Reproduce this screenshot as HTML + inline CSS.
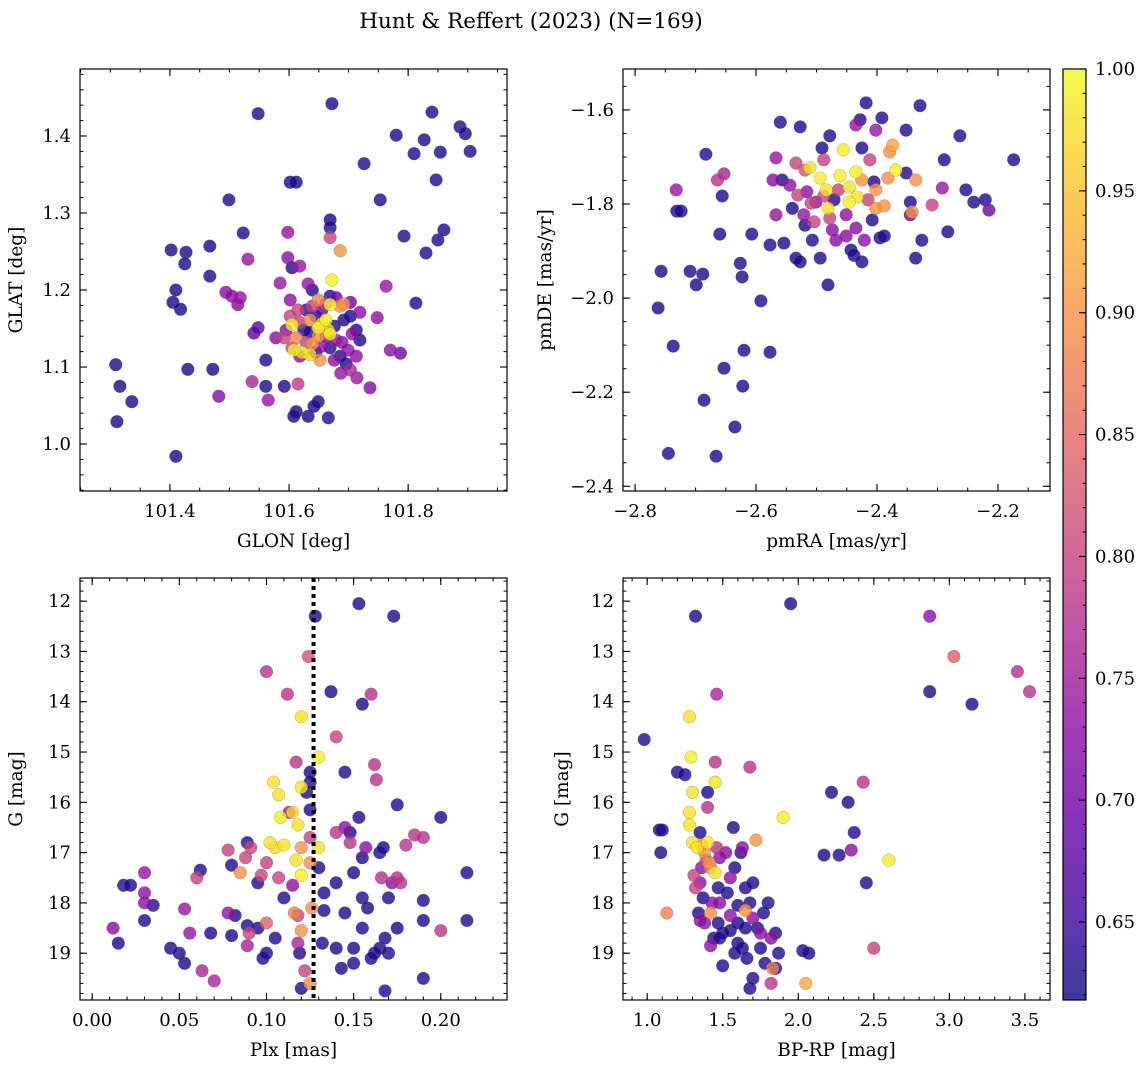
<!DOCTYPE html>
<html><head><meta charset="utf-8"><style>
body{margin:0;background:#fff;}
svg{display:block;font-family:"DejaVu Serif","Liberation Serif",serif;}
</style></head><body>
<svg id="fig" width="1148" height="1068" viewBox="0 0 1148 1068" xmlns="http://www.w3.org/2000/svg">
<text x="531" y="28" font-size="21.5" text-anchor="middle">Hunt &amp; Reffert (2023) (N=169)</text>
</svg>
<script>
// ---- data: [x, y, membership probability] ----
const skyPoints = [
[101.309,1.103,.625],[101.316,1.075,.625],[101.336,1.055,.625],[101.311,1.029,.625],[101.410,0.984,.625],[101.402,1.252,.625],[101.427,1.249,.625],[101.425,1.234,.625],[101.410,1.200,.625],[101.405,1.184,.625],[101.418,1.175,.625],[101.430,1.097,.625],[101.467,1.257,.625],[101.467,1.218,.625],[101.472,1.097,.625],[101.482,1.062,.72],[101.499,1.317,.63],[101.523,1.274,.63],[101.531,1.240,.74],[101.494,1.197,.73],[101.504,1.192,.73],[101.518,1.190,.74],[101.514,1.181,.72],[101.541,1.144,.68],[101.538,1.081,.76],[101.548,1.429,.63],[101.548,1.151,.68],[101.561,1.109,.63],[101.561,1.075,.63],[101.565,1.057,.74],[101.585,1.209,.74],[101.592,1.075,.63],[101.602,1.340,.625],[101.612,1.340,.625],[101.598,1.275,.74],[101.598,1.242,.73],[101.605,1.229,.63],[101.602,1.187,.73],[101.615,1.078,.79],[101.612,1.042,.625],[101.632,1.036,.625],[101.649,1.055,.63],[101.642,1.049,.63],[101.608,1.036,.625],[101.666,1.034,.63],[101.669,1.291,.63],[101.669,1.281,.63],[101.669,1.268,.80],[101.686,1.251,.90],[101.672,1.213,.99],[101.672,1.442,.63],[101.726,1.364,.63],[101.753,1.317,.63],[101.748,1.164,.73],[101.763,1.205,.74],[101.787,1.118,.70],[101.770,1.122,.73],[101.793,1.270,.63],[101.780,1.401,.63],[101.810,1.377,.63],[101.813,1.183,.63],[101.827,1.395,.63],[101.840,1.431,.63],[101.854,1.379,.625],[101.847,1.343,.63],[101.850,1.265,.63],[101.830,1.248,.63],[101.860,1.278,.63],[101.887,1.412,.63],[101.896,1.403,.63],[101.904,1.380,.63],[101.714,1.086,.74],[101.736,1.073,.72],[101.696,1.104,.63],[101.703,1.096,.76],[101.687,1.092,.74],
[101.618,1.114,.73],[101.625,1.148,.63],[101.635,1.145,.63],[101.645,1.166,.63],[101.655,1.174,.68],[101.676,1.153,.63],[101.662,1.140,.73],[101.618,1.231,.74],[101.632,1.208,.74],[101.639,1.200,.63],[101.649,1.187,.88],[101.662,1.182,.80],[101.669,1.192,.63],[101.679,1.190,.70],[101.686,1.179,.90],[101.692,1.182,.90],[101.692,1.161,.63],[101.703,1.184,.70],[101.703,1.166,.63],[101.713,1.148,.63],[101.719,1.171,.73],[101.706,1.143,.73],[101.689,1.132,.73],[101.699,1.122,.73],[101.679,1.135,.74],[101.669,1.125,.63],[101.655,1.127,.73],[101.645,1.119,.63],[101.639,1.130,.90],[101.629,1.132,.80],[101.612,1.138,.88],[101.605,1.155,.99],[101.608,1.122,.99],[101.622,1.119,.98],[101.635,1.116,.97],[101.649,1.151,.99],[101.655,1.156,.98],[101.662,1.161,.99],[101.666,1.148,.97],[101.669,1.143,.99],[101.649,1.140,.90],[101.635,1.161,.90],[101.618,1.158,.80],[101.602,1.166,.80],[101.595,1.148,.73],[101.615,1.174,.80],[101.629,1.174,.63],[101.652,1.109,.90],[101.676,1.109,.73],[101.686,1.114,.63],[101.713,1.114,.73],[101.719,1.135,.63],[101.669,1.181,.99],[101.639,1.179,.80],[101.605,1.125,.80],[101.592,1.138,.80],[101.578,1.138,.73]
];
const pmPoints = [
[-2.762,-2.021,.63],[-2.757,-1.943,.63],[-2.745,-2.330,.63],[-2.737,-2.102,.63],[-2.732,-1.770,.74],[-2.731,-1.815,.63],[-2.724,-1.815,.63],[-2.709,-1.943,.63],[-2.699,-1.972,.63],[-2.688,-1.949,.63],[-2.686,-2.217,.63],[-2.683,-1.694,.63],[-2.666,-2.336,.63],[-2.653,-2.149,.63],[-2.660,-1.864,.63],[-2.656,-1.783,.63],[-2.653,-1.736,.76],[-2.664,-1.749,.78],[-2.635,-2.274,.63],[-2.622,-2.187,.63],[-2.620,-2.111,.63],[-2.626,-1.926,.63],[-2.623,-1.955,.63],[-2.607,-1.864,.63],[-2.592,-2.006,.63],[-2.577,-2.115,.63],[-2.577,-1.887,.63],[-2.560,-1.626,.63],[-2.527,-1.636,.63],[-2.572,-1.749,.72],
[-2.567,-1.702,.74],[-2.557,-1.749,.63],[-2.544,-1.760,.73],[-2.567,-1.823,.74],[-2.554,-1.883,.63],[-2.540,-1.809,.63],[-2.531,-1.781,.80],[-2.534,-1.713,.80],[-2.519,-1.728,.82],[-2.511,-1.723,.98],[-2.521,-1.823,.74],[-2.519,-1.845,.63],[-2.534,-1.915,.63],[-2.527,-1.923,.63],[-2.507,-1.877,.63],[-2.494,-1.915,.63],[-2.501,-1.796,.73],[-2.494,-1.745,.99],[-2.491,-1.681,.63],[-2.488,-1.706,.80],[-2.484,-1.770,.98],[-2.481,-1.809,.98],[-2.478,-1.655,.63],[-2.478,-1.830,.80],[-2.474,-1.855,.73],[-2.481,-1.972,.63],[-2.471,-1.791,.63],[-2.461,-1.740,.99],[-2.464,-1.770,.80],[-2.456,-1.685,.99],[-2.451,-1.823,.73],[-2.446,-1.764,.98],[-2.446,-1.796,.99],[-2.443,-1.898,.63],[-2.438,-1.909,.63],[-2.435,-1.732,.99],[-2.433,-1.785,.98],[-2.428,-1.621,.63],[-2.435,-1.632,.74],[-2.425,-1.681,.63],[-2.425,-1.749,.90],[-2.421,-1.877,.73],[-2.425,-1.923,.63],[-2.418,-1.585,.63],[-2.415,-1.791,.80],[-2.408,-1.834,.63],[-2.405,-1.753,.63],[-2.402,-1.809,.90],[-2.395,-1.872,.63],[-2.388,-1.868,.63],[-2.392,-1.617,.63],[-2.382,-1.745,.90],[-2.388,-1.804,.90],[-2.369,-1.728,.99],[-2.379,-1.689,.90],[-2.374,-1.675,.92],[-2.402,-1.643,.74],[-2.352,-1.643,.63],[-2.352,-1.734,.63],[-2.345,-1.796,.63],[-2.345,-1.823,.70],[-2.336,-1.749,.90],[-2.342,-1.817,.90],[-2.329,-1.591,.63],[-2.336,-1.915,.63],[-2.326,-1.877,.63],[-2.309,-1.802,.80],[-2.292,-1.766,.74],[-2.289,-1.706,.63],[-2.283,-1.859,.63],[-2.263,-1.655,.63],[-2.253,-1.770,.63],[-2.240,-1.796,.63],[-2.221,-1.791,.63],[-2.215,-1.813,.70],[-2.174,-1.706,.63],[-2.468,-1.877,.73],[-2.504,-1.838,.80],[-2.451,-1.868,.73],[-2.412,-1.706,.80],[-2.402,-1.770,.90],[-2.516,-1.774,.73],[-2.509,-1.798,.80],[-2.488,-1.783,.80],[-2.435,-1.851,.73]
];
const plxPoints = [
[0.012,18.5,.73],[0.015,18.8,.63],[0.018,17.65,.63],[0.022,17.65,.63],[0.03,17.4,.74],[0.03,17.8,.73],[0.03,18.0,.73],[0.035,18.05,.63],[0.03,18.35,.63],[0.045,18.9,.63],[0.05,19.0,.63],[0.053,18.12,.74],[0.053,19.2,.63],[0.056,18.6,.74],[0.06,17.5,.80],[0.062,17.35,.63],[0.063,19.35,.76],[0.068,18.6,.63],[0.07,19.55,.76],[0.078,16.95,.80],[0.08,17.25,.63],[0.078,18.2,.73],[0.08,18.65,.63],[0.082,18.25,.63],[0.085,17.4,.90],[0.088,17.1,.80],[0.089,16.8,.63],[0.089,18.45,.63],[0.089,18.85,.76],[0.09,18.6,.80],[0.091,16.9,.80],[0.095,17.6,.63],[0.095,18.5,.63],[0.097,17.45,.80],[0.098,19.1,.63],[0.1,19.0,.63],[0.1,18.4,.84],[0.1,17.2,.80],[0.102,16.8,.98],[0.104,15.6,.98],[0.105,16.9,.97],[0.107,15.85,.98],[0.108,16.3,.99],[0.11,16.85,.98],[0.1,13.4,.78],[0.105,18.7,.63],[0.107,17.5,.80],[0.11,17.9,.63],[0.112,13.85,.78],[0.113,16.2,.74],[0.115,16.2,.97],[0.117,17.15,.98],[0.115,17.65,.73],[0.116,18.2,.88],[0.118,18.25,.80],[0.118,18.8,.76],[0.119,19.0,.63],[0.117,15.2,.78],[0.118,16.45,.98],[0.12,15.7,.98],[0.12,14.3,.98],[0.12,16.9,.90],[0.12,17.45,.99],[0.12,18.55,.90],[0.12,19.7,.63],[0.122,19.35,.80],[0.123,15.8,.63],[0.124,13.1,.82],[0.125,15.4,.63],[0.125,15.6,.63],[0.125,16.15,.63],[0.125,16.7,.80],[0.125,17.2,.90],[0.126,18.1,.90],[0.125,19.6,.90],[0.128,12.3,.63],[0.13,15.1,.99],[0.13,16.9,.98],[0.13,17.3,.63],[0.132,18.8,.63],[0.133,17.8,.63],[0.133,18.15,.63],[0.137,13.8,.63],[0.14,14.7,.80],[0.14,16.6,.78],[0.14,17.6,.63],[0.14,18.9,.63],[0.145,18.2,.63],[0.143,19.3,.63],[0.145,15.4,.63],[0.145,16.5,.73],[0.148,16.6,.63],[0.148,16.8,.78],[0.15,17.4,.63],[0.15,18.9,.63],[0.15,19.2,.63],[0.153,12.05,.63],[0.155,14.05,.63],[0.153,16.3,.63],[0.155,17.1,.63],[0.155,17.9,.63],[0.157,16.9,.73],[0.158,18.1,.63],[0.16,13.85,.78],[0.162,15.25,.78],[0.162,19.0,.63],[0.163,15.55,.78],[0.165,17.0,.63],[0.165,18.9,.63],[0.166,17.5,.78],[0.167,16.9,.63],[0.168,19.75,.63],[0.168,18.7,.63],[0.17,17.9,.63],[0.172,17.6,.73],[0.173,12.3,.63],[0.175,16.05,.63],[0.175,17.5,.78],[0.175,18.5,.63],[0.177,17.6,.78],[0.18,16.85,.78],[0.185,16.65,.78],[0.19,16.7,.78],[0.19,17.95,.63],[0.19,18.35,.63],[0.19,19.5,.63],[0.2,16.3,.63],[0.2,18.55,.78],[0.215,17.4,.63],[0.215,18.35,.63],[0.17,19.0,.63],[0.16,19.1,.63],[0.155,18.5,.63]
];
const cmdPoints = [
[0.98,14.75,.63],[1.08,16.55,.625],[1.09,17.0,.63],[1.13,18.2,.88],[1.2,15.4,.63],[1.25,15.45,.63],[1.28,14.3,.98],[1.29,15.1,.99],[1.28,16.2,.98],[1.28,16.45,.98],[1.3,15.8,.98],[1.32,12.3,.63],[1.3,16.8,.98],[1.31,17.45,.80],[1.32,17.7,.80],[1.33,16.9,.98],[1.35,16.6,.63],[1.36,16.85,.90],[1.34,18.2,.63],[1.35,17.6,.73],[1.36,17.3,.73],[1.37,17.9,.63],[1.38,18.4,.73],[1.38,17.0,.90],[1.39,17.15,.80],[1.4,15.8,.63],[1.4,16.1,.78],[1.4,16.8,.98],[1.41,17.2,.90],[1.42,17.3,.88],[1.42,18.85,.73],[1.42,18.2,.90],[1.43,18.0,.73],[1.44,18.7,.63],[1.45,15.2,.78],[1.45,15.6,.98],[1.45,17.4,.98],[1.46,13.85,.76],[1.46,16.9,.78],[1.47,17.7,.63],[1.47,18.4,.63],[1.48,17.1,.73],[1.48,18.0,.73],[1.5,19.25,.63],[1.5,18.6,.63],[1.52,17.0,.73],[1.53,17.8,.63],[1.55,18.25,.73],[1.55,18.55,.63],[1.57,16.5,.63],[1.58,17.3,.63],[1.6,18.05,.63],[1.6,18.8,.63],[1.6,18.4,.63],[1.62,17.0,.63],[1.63,18.9,.63],[1.63,16.9,.73],[1.65,18.15,.90],[1.65,17.7,.63],[1.66,19.1,.63],[1.68,15.3,.78],[1.68,18.0,.63],[1.68,19.7,.63],[1.7,19.5,.63],[1.7,18.3,.73],[1.72,16.75,.90],[1.73,18.5,.63],[1.75,18.6,.73],[1.77,18.2,.63],[1.78,19.2,.63],[1.8,18.0,.63],[1.82,18.7,.73],[1.82,19.6,.78],[1.83,19.3,.88],[1.85,19.3,.63],[1.85,18.6,.63],[1.87,19.0,.63],[1.9,16.3,.99],[1.95,12.05,.63],[2.03,18.95,.63],[2.07,19.0,.63],[2.05,19.6,.92],[2.17,17.05,.63],[2.22,15.8,.63],[2.27,17.05,.63],[2.33,16.0,.63],[2.35,16.95,.73],[2.37,16.6,.63],[2.43,15.6,.78],[2.45,17.6,.63],[2.5,18.9,.80],[2.6,17.15,.99],[2.87,12.3,.73],[2.87,13.8,.63],[3.03,13.1,.84],[3.15,14.05,.63],[3.45,13.4,.78],[3.53,13.8,.78],[1.1,16.55,.63],[1.35,18.35,.73],[1.48,18.7,.63],[1.55,17.5,.73],[1.58,19.0,.63],[1.65,18.5,.63],[1.75,18.9,.63],[1.7,17.6,.63]
];
const plxRef = [0.127];
const colorTicks = [0.65,0.70,0.75,0.80,0.85,0.90,0.95,1.00];
const cMin = 0.618, cMax = 1.0;

const NS="http://www.w3.org/2000/svg";
const svg=document.getElementById('fig');
function mk(tag,attrs,parent){const e=document.createElementNS(NS,tag);for(const k in attrs)e.setAttribute(k,attrs[k]);(parent||svg).appendChild(e);return e;}
const plasma=["#0d0887","#41049d","#6a00a8","#8f0da4","#b12a90","#cc4778","#e16462","#f2844b","#fca636","#fcce25","#f0f921"];
function hex(h){return [1,3,5].map(i=>parseInt(h.substr(i,2),16));}
function cmap(v){let t=(v-cMin)/(cMax-cMin);t=Math.max(0,Math.min(1,t));const f=t*10,i=Math.min(9,Math.floor(f)),r=f-i;const a=hex(plasma[i]),b=hex(plasma[i+1]);return 'rgb('+a.map((c,k)=>Math.round(c+(b[k]-c)*r)).join(',')+')';}

const TICK=18, LAB=18.5;
const panels=[
 {name:'sky',pts:skyPoints,x0:80,x1:507,y0:69,y1:491,xd:[101.249,101.966],yd:[1.487,0.939],xt:[101.4,101.6,101.8],xf:1,xm:0.05,yt:[1.0,1.1,1.2,1.3,1.4],yf:1,ym:0.02,xl:'GLON [deg]',yl:'GLAT [deg]',ylx:22},
 {name:'proper-motion',pts:pmPoints,x0:623,x1:1050,y0:69,y1:491,xd:[-2.82,-2.114],yd:[-1.513,-2.41],xt:[-2.8,-2.6,-2.4,-2.2],xf:1,xm:0.05,yt:[-2.4,-2.2,-2.0,-1.8,-1.6],yf:1,ym:0.05,xl:'pmRA [mas/yr]',yl:'pmDE [mas/yr]',ylx:551},
 {name:'parallax-magnitude',pts:plxPoints,x0:80,x1:507,y0:578,y1:1000,xd:[-0.007,0.238],yd:[11.54,19.93],xt:[0,0.05,0.1,0.15,0.2],xf:2,xm:0.01,yt:[12,13,14,15,16,17,18,19],yf:0,ym:0.2,xl:'Plx [mas]',yl:'G [mag]',ylx:22},
 {name:'color-magnitude',pts:cmdPoints,x0:623,x1:1050,y0:578,y1:1000,xd:[0.84,3.666],yd:[11.54,19.93],xt:[1.0,1.5,2.0,2.5,3.0,3.5],xf:1,xm:0.1,yt:[12,13,14,15,16,17,18,19],yf:0,ym:0.2,xl:'BP-RP [mag]',yl:'G [mag]',ylx:568}
];
function fmt(v,d){return (v<0?'\u2212':'')+Math.abs(v).toFixed(d);}
panels.forEach((p,pi)=>{
 const g=mk('g',{});
 
 
 const sx=v=>p.x0+(v-p.xd[0])/(p.xd[1]-p.xd[0])*(p.x1-p.x0);
 const sy=v=>p.y0+(v-p.yd[0])/(p.yd[1]-p.yd[0])*(p.y1-p.y0);
 const clipId='clip'+pi;
 const cp=mk('clipPath',{id:clipId},g);mk('rect',{x:p.x0,y:p.y0,width:p.x1-p.x0,height:p.y1-p.y0},cp);
 const pg=mk('g',{'clip-path':'url(#'+clipId+')'},g);
 const sorted=p.pts.slice().sort((a,b)=>a[2]-b[2]);
 sorted.forEach(d=>{
  const c=mk('circle',{cx:sx(d[0]).toFixed(1),cy:sy(d[1]).toFixed(1),r:6.4,fill:cmap(d[2]),'fill-opacity':0.8,stroke:'#666','stroke-width':0.4,'stroke-opacity':0.6},pg);
  
  
 });
 if(p.name==='parallax-magnitude'){
  plxRef.forEach(v=>{const l=mk('line',{x1:sx(v),x2:sx(v),y1:p.y0,y2:p.y1,stroke:'#000','stroke-width':4,'stroke-dasharray':'4 4'},pg);
  
  });
 }
 mk('rect',{x:p.x0,y:p.y0,width:p.x1-p.x0,height:p.y1-p.y0,fill:'none',stroke:'#000','stroke-width':1.2},g);
 const xs=Math.ceil(p.xd[0]/p.xm-1e-6), xe=Math.floor(p.xd[1]/p.xm+1e-6);
 for(let i=xs;i<=xe;i++){const X=sx(i*p.xm);mk('line',{x1:X,x2:X,y1:p.y1,y2:p.y1-3.5,stroke:'#000'},g);mk('line',{x1:X,x2:X,y1:p.y0,y2:p.y0+3.5,stroke:'#000'},g);}
 const ylo=Math.min(...p.yd),yhi=Math.max(...p.yd);
 for(let i=Math.ceil(ylo/p.ym-1e-6);i<=Math.floor(yhi/p.ym+1e-6);i++){const Y=sy(i*p.ym);mk('line',{x1:p.x0,x2:p.x0+3.5,y1:Y,y2:Y,stroke:'#000'},g);mk('line',{x1:p.x1,x2:p.x1-3.5,y1:Y,y2:Y,stroke:'#000'},g);}
 p.xt.forEach(v=>{const X=sx(v);mk('line',{x1:X,x2:X,y1:p.y1,y2:p.y1-7,stroke:'#000','stroke-width':1.1},g);mk('line',{x1:X,x2:X,y1:p.y0,y2:p.y0+7,stroke:'#000','stroke-width':1.1},g);
  const t=mk('text',{x:X,y:p.y1+26,'font-size':TICK,'text-anchor':'middle'},g);t.textContent=fmt(v,p.xf);
  
  });
 p.yt.forEach(v=>{const Y=sy(v);mk('line',{x1:p.x0,x2:p.x0+7,y1:Y,y2:Y,stroke:'#000','stroke-width':1.1},g);mk('line',{x1:p.x1,x2:p.x1-7,y1:Y,y2:Y,stroke:'#000','stroke-width':1.1},g);
  const t=mk('text',{x:p.x0-9,y:Y+6,'font-size':TICK,'text-anchor':'end'},g);t.textContent=fmt(v,p.yf);
  
  });
 const xl=mk('text',{x:(p.x0+p.x1)/2,y:p.y1+56,'font-size':LAB,'text-anchor':'middle'},g);xl.textContent=p.xl;
 
 
 const cy=(p.y0+p.y1)/2;
 const yl=mk('text',{x:p.ylx,y:cy,'font-size':LAB,'text-anchor':'middle',transform:'rotate(-90 '+p.ylx+' '+cy+')'},g);yl.textContent=p.yl;
 
 
});
const cb=mk('g',{});


const cx0=1063,cx1=1086,cy0=69,cy1=1000;
const cys=v=>cy1-(v-cMin)/(cMax-cMin)*(cy1-cy0);
const defs=mk('defs',{},cb);const lg=mk('linearGradient',{id:'cbg',x1:0,y1:1,x2:0,y2:0},defs);
for(let i=0;i<=20;i++){mk('stop',{offset:i/20,'stop-color':cmap(cMin+(cMax-cMin)*i/20)},lg);}
mk('rect',{x:cx0,y:cy0,width:cx1-cx0,height:cy1-cy0,fill:'url(#cbg)','fill-opacity':0.8},cb);
mk('rect',{x:cx0,y:cy0,width:cx1-cx0,height:cy1-cy0,fill:'none',stroke:'#000','stroke-width':1.2},cb);
for(let v=Math.ceil(cMin*100);v<=100;v++){const Y=cys(v/100);mk('line',{x1:cx1,x2:cx1-3.5,y1:Y,y2:Y,stroke:'#000'},cb);}
colorTicks.forEach(v=>{const Y=cys(v);mk('line',{x1:cx1,x2:cx1-7,y1:Y,y2:Y,stroke:'#000','stroke-width':1.1},cb);
 const t=mk('text',{x:cx1+9,y:Y+6,'font-size':TICK},cb);t.textContent=v.toFixed(2);
 
 });
</script>
</body></html>
